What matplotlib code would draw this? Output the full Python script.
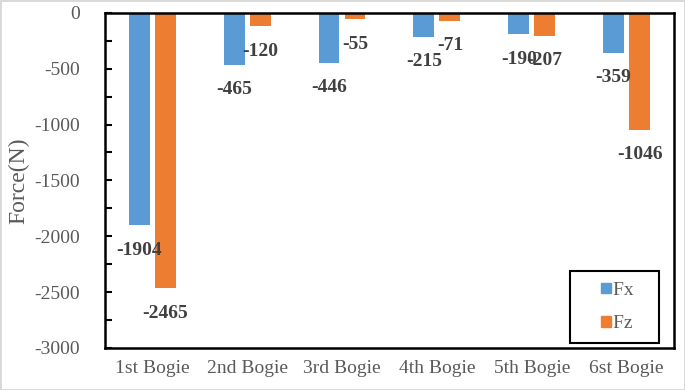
import matplotlib.pyplot as plt
import numpy as np
from matplotlib.ticker import MultipleLocator
from matplotlib.patches import Rectangle
from matplotlib.legend_handler import HandlerPatch

categories = ["1st Bogie", "2nd Bogie", "3rd Bogie", "4th Bogie", "5th Bogie", "6st Bogie"]
fx = [-1904, -465, -446, -215, -190, -359]
fz = [-2465, -120, -55, -71, -207, -1046]

plt.rcParams['font.family'] = ['Liberation Serif', 'DejaVu Serif']
plt.rcParams['axes.unicode_minus'] = False

blue = '#5B9BD5'
orange = '#ED7D31'

fig = plt.figure(figsize=(6.85, 3.9), dpi=100)
fig.patch.set_edgecolor('#d9d9d9')
fig.patch.set_linewidth(2)
ax = fig.add_axes([0.153, 0.108, 0.831, 0.859])

x = np.arange(len(categories))
w = 0.22
off = 0.137
b1 = ax.bar(x - off, fx, w, color=blue)
b2 = ax.bar(x + off, fz, w, color=orange)

for bars, vals in ((b1, fx), (b2, fz)):
    for b, v in zip(bars, vals):
        ax.annotate(str(v), (b.get_x() + b.get_width() / 2, v), xytext=(0, -18),
                    textcoords='offset points', ha='center', va='center',
                    fontsize=14, fontweight='bold', color='#404040')

ax.set_xlim(-0.5, len(categories) - 0.5)
ax.set_ylim(-3000, 0)
ax.yaxis.set_major_locator(MultipleLocator(500))
ax.yaxis.set_minor_locator(MultipleLocator(250))
ax.tick_params(axis='y', which='both', direction='in', length=5, width=1.5,
               labelsize=14, labelcolor='#595959', pad=18)
ax.tick_params(axis='x', length=0, labelsize=14, labelcolor='#595959', pad=9)
ax.set_xticks(x)
ax.set_xticklabels(categories)
ax.set_ylabel('Force(N)', fontsize=17, color='#595959')
ax.yaxis.set_label_coords(-0.133, 0.5)

for s in ax.spines.values():
    s.set_linewidth(1.8)
    s.set_color('black')


# small square sitting at the right end of the handle box, next to the text
def small_square(legend, orig_handle, xdescent, ydescent, width, height, fontsize):
    s = 7.5
    return Rectangle((width - xdescent - s, -ydescent + (height - s) / 2), s, s)


handles = [Rectangle((0, 0), 1, 1, color=blue), Rectangle((0, 0), 1, 1, color=orange)]
leg = ax.legend(handles, ['Fx   ', 'Fz   '], loc='lower right', bbox_to_anchor=(0.974, 0.015),
                fontsize=14, handlelength=1.6, labelspacing=0.8,
                borderpad=0.55, handletextpad=0.1, fancybox=False, framealpha=1,
                borderaxespad=0,
                handler_map={Rectangle: HandlerPatch(patch_func=small_square)})
leg.get_frame().set_edgecolor('black')
leg.get_frame().set_linewidth(1.5)
for t in leg.get_texts():
    t.set_color('#595959')

fig.savefig('out.png', dpi=100)
